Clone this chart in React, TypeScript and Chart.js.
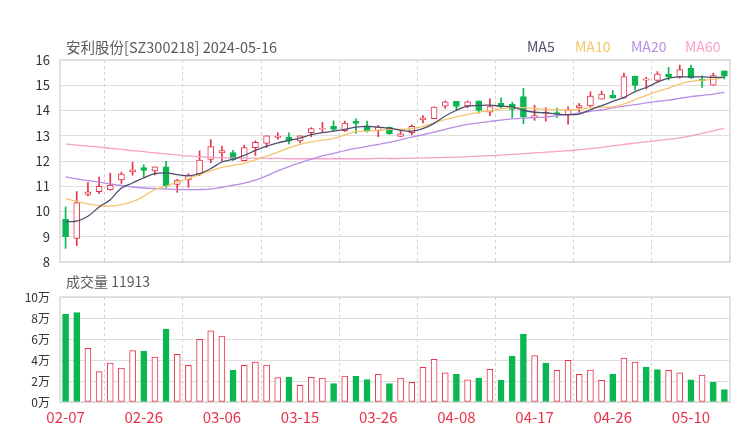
import React, { useEffect, useRef } from 'react';
import { Chart, registerables } from 'chart.js';
Chart.register(...registerables);

const FONT = '"Noto Sans CJK SC", "Noto Sans", sans-serif';
const RED = '#e8334a';
const GREEN = '#0ab650';

const titleText = '安利股份[SZ300218] 2024-05-16';
const volTitle = '成交量 11913';

const dates = ['02-07','02-08','02-19','02-20','02-21','02-22','02-23','02-26','02-27','02-28','02-29','03-01','03-04','03-05','03-06','03-07','03-08','03-11','03-12','03-13','03-14','03-15','03-18','03-19','03-20','03-21','03-22','03-25','03-26','03-27','03-28','03-29','04-01','04-02','04-03','04-08','04-09','04-10','04-11','04-12','04-15','04-16','04-17','04-18','04-19','04-22','04-23','04-24','04-25','04-26','04-29','04-30','05-06','05-07','05-08','05-09','05-10','05-14','05-15','05-16'];
const xLabelIdx = [0, 7, 14, 21, 28, 35, 42, 49, 56];
const xGridPos = [3.5, 10.5, 17.5, 24.5, 31.5, 38.5, 45.5, 52.5];

const openP = [9.70,8.93,10.68,10.79,10.86,11.25,11.57,11.74,11.61,11.77,11.07,11.25,11.50,12.06,12.32,12.33,12.01,12.53,12.70,12.93,12.95,12.80,13.12,13.26,13.37,13.20,13.57,13.39,13.20,13.33,12.97,13.12,13.63,13.68,14.17,14.36,14.18,14.38,13.93,14.28,14.24,14.55,13.74,13.88,13.92,13.82,14.10,14.18,14.45,14.61,14.49,15.36,15.20,15.19,15.44,15.32,15.67,15.24,15.00,15.57];
const highP = [10.18,10.79,11.15,11.36,11.52,11.56,11.95,11.85,11.77,11.99,11.27,11.50,12.40,12.85,12.59,12.42,12.63,12.80,13.00,13.12,13.12,13.00,13.32,13.53,13.59,13.58,13.67,13.58,13.41,13.35,13.20,13.43,13.80,14.15,14.38,14.36,14.38,14.38,14.46,14.50,14.33,14.88,14.21,14.11,14.10,14.15,14.28,14.74,14.77,14.79,15.48,15.36,15.32,15.54,15.71,15.80,15.80,15.37,15.48,15.57];
const lowP = [8.54,8.65,10.62,10.71,10.85,11.11,11.44,11.37,11.45,10.92,10.76,10.96,11.42,11.93,11.99,12.01,12.00,12.22,12.53,12.86,12.68,12.72,12.96,13.12,13.18,13.17,13.09,13.14,12.96,13.05,12.97,13.04,13.51,13.68,14.08,13.99,14.11,13.89,13.80,14.11,13.72,13.47,13.61,13.58,13.73,13.46,13.89,14.15,14.45,14.49,14.49,14.81,14.85,15.15,15.21,15.28,15.27,14.91,15.00,15.25];
const closeP = [9.00,10.35,10.78,11.00,11.04,11.48,11.65,11.63,11.77,11.01,11.24,11.44,12.04,12.57,12.41,12.05,12.53,12.74,13.00,12.99,12.79,13.00,13.28,13.29,13.25,13.50,13.49,13.18,13.34,13.08,13.08,13.37,13.71,14.14,14.34,14.16,14.34,14.00,14.16,14.14,14.04,13.75,13.80,13.92,13.86,14.02,14.19,14.57,14.65,14.49,15.34,14.99,15.25,15.44,15.33,15.62,15.29,15.17,15.38,15.36];

const volume = [83800,85100,51100,28900,37100,32400,48900,48300,42900,69500,45400,34900,59700,67900,62900,30200,34900,38100,35200,23200,23800,15900,23500,22900,17500,24800,24400,21300,26300,17500,22900,18700,33000,40600,27900,26300,21000,22900,31100,20600,43500,64400,44100,36800,30200,39700,26300,30500,20600,26700,41900,38100,33300,30800,30200,27900,21000,25700,18700,11913];
const volDir = 'ddu' + 'uuuu' + 'dudu' + 'uuuu' + 'duuuudu' + 'uudud' + 'dudu' + 'uuuu' + 'dudud' + 'ddu' + 'duuu' + 'uudu' + 'uddu' + 'ud' + 'u';

const ma5 = [9.60,9.62,9.81,10.18,10.47,10.93,11.13,11.33,11.50,11.53,11.46,11.41,11.50,11.70,11.96,12.07,12.22,12.42,12.59,12.72,12.82,12.91,13.04,13.12,13.18,13.25,13.34,13.37,13.34,13.30,13.22,13.18,13.28,13.49,13.78,14.01,14.17,14.20,14.21,14.17,14.14,14.01,13.93,13.91,13.86,13.84,13.86,14.03,14.19,14.36,14.52,14.75,14.91,15.12,15.28,15.33,15.33,15.33,15.31,15.31];
const ma10 = [10.51,10.40,10.30,10.23,10.21,10.27,10.39,10.60,10.87,11.00,11.17,11.30,11.46,11.61,11.75,11.83,11.91,12.04,12.20,12.35,12.52,12.66,12.76,12.83,12.89,13.03,13.16,13.18,13.22,13.25,13.25,13.28,13.36,13.51,13.64,13.75,13.84,13.93,13.99,14.07,14.11,14.11,14.08,14.04,14.03,14.02,14.05,14.10,14.13,14.14,14.26,14.43,14.60,14.75,14.89,15.04,15.15,15.20,15.23,15.31];
const ma20 = [11.37,11.29,11.22,11.16,11.09,11.03,10.97,10.93,10.91,10.89,10.87,10.87,10.87,10.89,10.96,11.04,11.12,11.24,11.41,11.61,11.78,11.93,12.07,12.20,12.30,12.41,12.50,12.58,12.66,12.74,12.84,12.95,13.04,13.14,13.25,13.36,13.45,13.51,13.57,13.62,13.67,13.70,13.72,13.74,13.80,13.84,13.90,13.97,14.02,14.10,14.17,14.23,14.30,14.36,14.41,14.48,14.55,14.60,14.65,14.72];
const ma60 = [12.68,12.63,12.59,12.55,12.50,12.46,12.41,12.37,12.32,12.28,12.24,12.20,12.17,12.15,12.13,12.12,12.11,12.11,12.10,12.10,12.09,12.09,12.09,12.09,12.09,12.09,12.09,12.09,12.10,12.10,12.10,12.11,12.12,12.13,12.14,12.15,12.17,12.19,12.21,12.23,12.26,12.29,12.32,12.35,12.38,12.41,12.45,12.49,12.54,12.60,12.66,12.71,12.76,12.81,12.86,12.92,13.00,13.09,13.19,13.30];

const maNames = ['MA5', 'MA10', 'MA20', 'MA60'];
const maColors = ['#4e4e6e', '#f6c46c', '#b98de6', '#f8a0ca'];
const maSeries = [ma5, ma10, ma20, ma60];
const legendX = [527, 575, 631, 685];

const framePlugin = {
  id: 'frame',
  beforeDatasetsDraw(chart: any) {
    const { ctx, chartArea: a } = chart;
    ctx.save();
    ctx.strokeStyle = '#d9d9d9';
    ctx.lineWidth = 1.5;
    ctx.strokeRect(a.left, a.top, a.right - a.left, a.bottom - a.top);
    ctx.restore();
  },
};

export default function App() {
  const priceRef = useRef<HTMLCanvasElement>(null);
  const volRef = useRef<HTMLCanvasElement>(null);

  useEffect(() => {
    const idx = dates.map((_, i) => i);
    const up = idx.map((i) => closeP[i] >= openP[i]);
    const candleColor = idx.map((i) => (up[i] ? RED : GREEN));

    const textPlugin = {
      id: 'texts',
      afterDraw(chart: any) {
        const ctx = chart.ctx;
        ctx.save();
        ctx.textBaseline = 'middle';
        ctx.textAlign = 'left';
        ctx.font = `14.5px ${FONT}`;
        ctx.fillStyle = '#5a5a5a';
        ctx.fillText(titleText, 66, 47);
        ctx.font = `14px ${FONT}`;
        maNames.forEach((n, k) => {
          ctx.fillStyle = maColors[k];
          ctx.fillText(n, legendX[k], 47);
        });
        ctx.restore();
      },
    };

    const xGridScale = (withLabels: boolean, h: number) => ({
      type: 'linear',
      min: -0.5,
      max: 59.5,
      offset: false,
      afterBuildTicks: (s: any) => {
        const vals = withLabels ? [...xLabelIdx, ...xGridPos].sort((a, b) => a - b) : xGridPos;
        s.ticks = vals.map((v) => ({ value: v }));
      },
      afterFit: (s: any) => {
        s.height = h;
        s.paddingLeft = 0;
        s.paddingRight = 0;
      },
      grid: {
        drawTicks: false,
        offset: false,
        color: (c: any) => (c.tick && c.tick.value % 1 !== 0 ? '#d2d2d2' : 'rgba(0,0,0,0)'),
        lineWidth: 1,
      },
      border: { display: false, dash: [3, 3] },
      ticks: {
        display: withLabels,
        autoSkip: false,
        maxRotation: 0,
        padding: 6,
        color: RED,
        font: { family: FONT, size: 15 },
        callback: (v: any) => (Number.isInteger(v) && xLabelIdx.includes(v) ? dates[v] : ''),
      },
    });

    const yFit = (s: any) => {
      s.width = 60;
      s.paddingTop = 0;
      s.paddingBottom = 0;
    };

    const price = new Chart(priceRef.current as HTMLCanvasElement, {
      type: 'bar',
      data: {
        datasets: [
          ...maSeries.map((s, k) => ({
            type: 'line' as const,
            data: idx.map((i) => ({ x: i, y: s[i] })),
            borderColor: maColors[k],
            borderWidth: 1.3,
            pointRadius: 0,
            tension: 0.35,
            order: 0,
          })),
          {
            type: 'bar' as const,
            data: idx.map((i) => ({ x: i, y: [openP[i], closeP[i]] })) as any,
            backgroundColor: idx.map((i) => (up[i] ? '#ffffff' : GREEN)),
            borderColor: candleColor,
            borderWidth: 1,
            borderSkipped: false,
            barThickness: 6,
            grouped: false,
            order: 1,
          },
          {
            type: 'bar' as const,
            data: idx.map((i) => ({ x: i, y: [lowP[i], highP[i]] })) as any,
            backgroundColor: candleColor,
            borderWidth: 0,
            barThickness: 1,
            grouped: false,
            order: 2,
          },
        ],
      },
      options: {
        responsive: false,
        animation: false,
        devicePixelRatio: 1,
        layout: { padding: { top: 60, right: 10, left: 0, bottom: 0 } },
        plugins: { legend: { display: false }, tooltip: { enabled: false } },
        scales: {
          x: xGridScale(false, 8) as any,
          y: {
            min: 8,
            max: 16,
            afterFit: yFit,
            ticks: { stepSize: 1, padding: 10, color: '#333', font: { family: FONT, size: 13 } },
            grid: { color: '#dedede', drawTicks: false },
            border: { display: false },
          },
        },
      },
      plugins: [framePlugin, textPlugin],
    } as any);

    const volTextPlugin = {
      id: 'voltext',
      afterDraw(chart: any) {
        const ctx = chart.ctx;
        ctx.save();
        ctx.font = `14px ${FONT}`;
        ctx.textBaseline = 'middle';
        ctx.textAlign = 'left';
        ctx.fillStyle = '#5a5a5a';
        ctx.fillText(volTitle, 66, 12);
        ctx.restore();
      },
    };

    const vol = new Chart(volRef.current as HTMLCanvasElement, {
      type: 'bar',
      data: {
        datasets: [
          {
            data: idx.map((i) => ({ x: i, y: volume[i] })),
            backgroundColor: idx.map((i) => (volDir[i] === 'u' ? '#ffffff' : GREEN)),
            borderColor: idx.map((i) => (volDir[i] === 'u' ? RED : GREEN)),
            borderWidth: 1,
            borderSkipped: false,
            barThickness: 6,
            grouped: false,
          },
        ],
      },
      options: {
        responsive: false,
        animation: false,
        devicePixelRatio: 1,
        layout: { padding: { top: 27, right: 10, left: 0, bottom: 0 } },
        plugins: { legend: { display: false }, tooltip: { enabled: false } },
        scales: {
          x: xGridScale(true, 38) as any,
          y: {
            min: 0,
            max: 100000,
            afterFit: yFit,
            ticks: {
              stepSize: 20000,
              padding: 10,
              color: '#333',
              font: { family: FONT, size: 12 },
              callback: (v: any) => `${v / 10000}万`,
            },
            grid: { color: '#dedede', drawTicks: false },
            border: { display: false },
          },
        },
      },
      plugins: [framePlugin, volTextPlugin],
    } as any);

    return () => {
      price.destroy();
      vol.destroy();
    };
  }, []);

  return (
    <div style={{ position: 'fixed', left: 0, top: 0, width: 740, height: 440, background: '#fff' }}>
      <canvas ref={priceRef} width={740} height={270} style={{ position: 'absolute', left: 0, top: 0 }} />
      <canvas ref={volRef} width={740} height={170} style={{ position: 'absolute', left: 0, top: 270 }} />
    </div>
  );
}
